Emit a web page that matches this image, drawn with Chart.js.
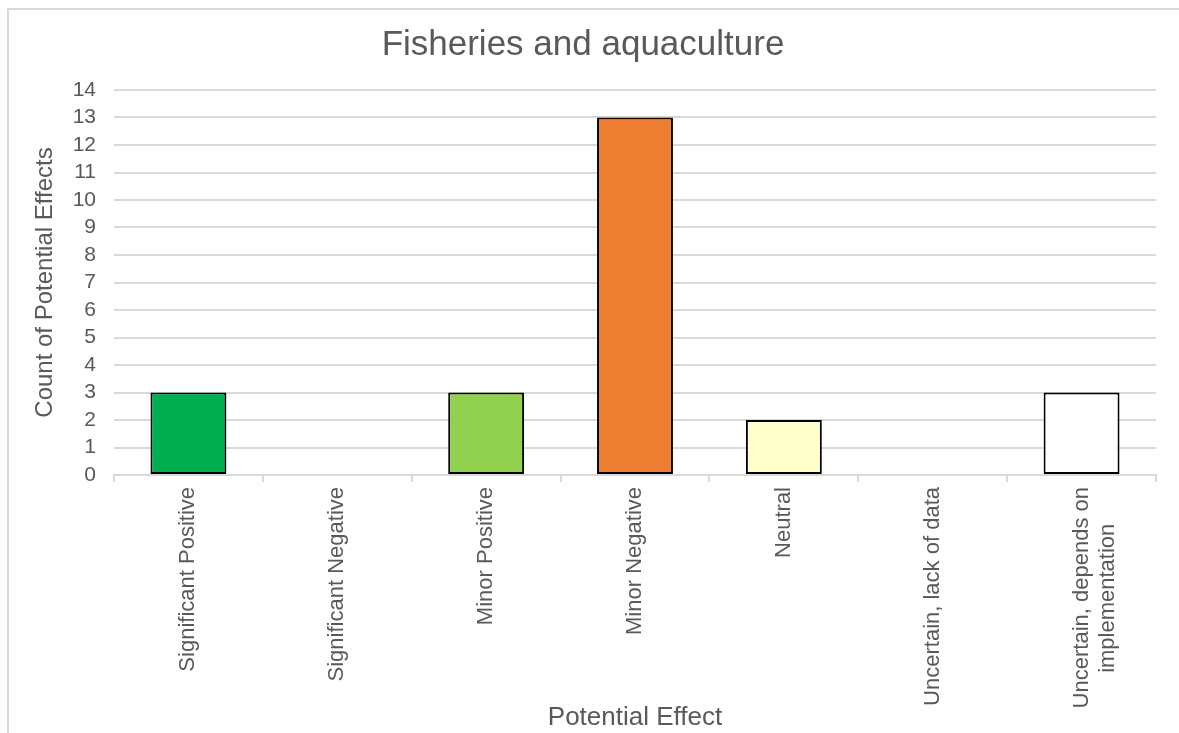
<!DOCTYPE html>
<html>
<head>
<meta charset="utf-8">
<script src="https://cdn.jsdelivr.net/npm/chart.js@4/dist/chart.umd.min.js"></script>
<style>
  html, body { margin: 0; padding: 0; background: #ffffff; }
  body { width: 1179px; height: 733px; overflow: hidden; position: relative; }
  #frame {
    position: absolute; left: 7px; top: 8px; width: 1172px; height: 725px;
    border-left: 2px solid #d9d9d9; border-top: 2px solid #d9d9d9; box-sizing: border-box;
  }
  #wrap { position: absolute; left: 10px; top: 11px; width: 1169px; height: 722px; }
</style>
</head>
<body>
<div id="frame"></div>
<div id="wrap"><canvas id="chart"></canvas></div>
<script>
// Potential effect categories (last label wraps onto two lines)
const categories = [
  'Significant Positive',
  'Significant Negative',
  'Minor Positive',
  'Minor Negative',
  'Neutral',
  'Uncertain, lack of data',
  ['Uncertain, depends on', 'implementation      ']
];
// Count of potential effects per category
const counts = [3, 0, 3, 13, 2, 0, 3];
// Fill colour per category
const barColors = ['#00B050', '#FF0000', '#92D050', '#ED7D31', '#FFFFCC', '#BFBFBF', '#FFFFFF'];
// Y axis range
const yMin = 0;
const yMax = 14;
const yStep = 1;

const textGrey = '#595959';
const gridGrey = '#d9d9d9';
const fontFamily = '"Liberation Sans", Arial, sans-serif';

new Chart(document.getElementById('chart'), {
  type: 'bar',
  data: {
    labels: categories,
    datasets: [{
      data: counts,
      backgroundColor: barColors,
      borderColor: '#000000',
      borderWidth: (ctx) => (ctx.raw ? 2 : 0),
      borderSkipped: false,
      barPercentage: 0.51,
      categoryPercentage: 1.0
    }]
  },
  options: {
    responsive: true,
    maintainAspectRatio: false,
    animation: false,
    layout: { padding: { left: 0, right: 23, top: 0, bottom: 0 } },
    plugins: {
      legend: { display: false },
      tooltip: { enabled: false },
      title: {
        display: true,
        text: 'Fisheries and aquaculture',
        color: textGrey,
        font: { family: fontFamily, size: 35, weight: 'normal' },
        padding: { top: 13, bottom: 24 }
      }
    },
    scales: {
      x: {
        offset: true,
        grid: {
          offset: true,
          drawOnChartArea: false,
          drawTicks: true,
          tickLength: 7,
          color: gridGrey,
          lineWidth: 2
        },
        border: { display: true, color: gridGrey, width: 2 },
        ticks: {
          color: textGrey,
          font: { family: fontFamily, size: 22 },
          minRotation: 90,
          maxRotation: 90,
          autoSkip: false,
          padding: 5
        },
        title: {
          display: true,
          text: 'Potential Effect',
          color: textGrey,
          font: { family: fontFamily, size: 26 },
          padding: { top: 0, bottom: 0 }
        },
        afterFit: (scale) => { scale.height = 258; }
      },
      y: {
        min: yMin,
        max: yMax,
        grid: { color: gridGrey, lineWidth: 2, drawTicks: false },
        border: { display: false },
        ticks: {
          stepSize: yStep,
          autoSkip: false,
          color: textGrey,
          font: { family: fontFamily, size: 21 },
          padding: 18
        },
        title: {
          display: true,
          text: 'Count of Potential Effects',
          color: textGrey,
          font: { family: fontFamily, size: 24 },
          padding: { top: 21, bottom: 0 }
        },
        afterFit: (scale) => { scale.width = 104; }
      }
    }
  }
});
</script>
</body>
</html>
